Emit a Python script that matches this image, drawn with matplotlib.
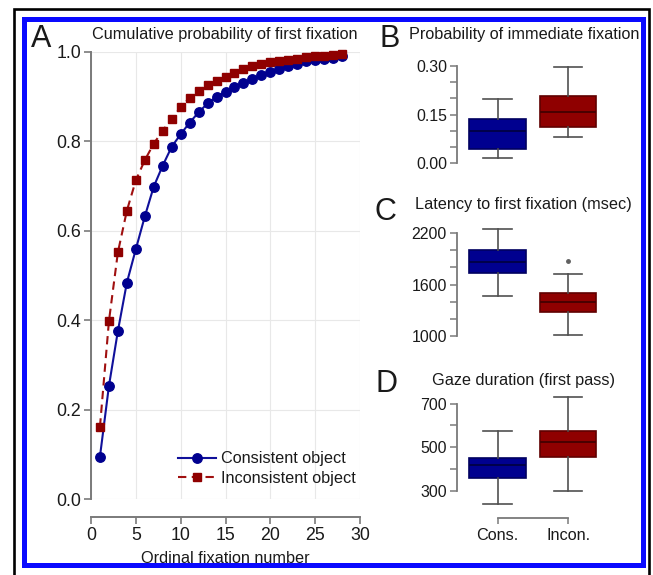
import matplotlib
matplotlib.use("Agg")
import matplotlib.pyplot as plt
from matplotlib.patches import Rectangle
from matplotlib.ticker import MultipleLocator
import numpy as np

plt.rcParams['font.family'] = ['Liberation Sans', 'DejaVu Sans']

# ---------------- data ----------------
fixation_number = list(range(1, 29))
cum_consistent = [0.095, 0.253, 0.376, 0.484, 0.559, 0.632, 0.699, 0.746, 0.788, 0.816,
                  0.842, 0.865, 0.885, 0.900, 0.911, 0.922, 0.930, 0.939, 0.949, 0.956,
                  0.963, 0.968, 0.974, 0.979, 0.981, 0.984, 0.986, 0.990]
cum_inconsistent = [0.162, 0.398, 0.552, 0.645, 0.713, 0.758, 0.795, 0.824, 0.851, 0.876,
                    0.898, 0.913, 0.926, 0.935, 0.945, 0.954, 0.963, 0.968, 0.973, 0.977,
                    0.980, 0.983, 0.985, 0.988, 0.990, 0.992, 0.994, 0.996]
series_labels = ["Consistent object", "Inconsistent object"]

cat_labels = ["Cons.", "Incon."]
# box stats: [whisker low, Q1, median, Q3, whisker high]
immediate_cons = [0.017, 0.045, 0.100, 0.138, 0.197]
immediate_incon = [0.082, 0.113, 0.157, 0.207, 0.297]
latency_cons = [1465, 1735, 1864, 2008, 2254]
latency_incon = [1008, 1278, 1395, 1504, 1720]
latency_incon_outliers = [1872]
gaze_cons = [239, 359, 419, 451, 575]
gaze_incon = [299, 457, 523, 573, 730]

# ---------------- figure ----------------
W, H = 653, 575
fig = plt.figure(figsize=(W / 100, H / 100), dpi=100)
fig.patch.set_facecolor('white')


def px_axes(left, top, right, bottom):
    return fig.add_axes([left / W, 1 - bottom / H, (right - left) / W, (bottom - top) / H])


def fx(x):
    return x / W


def fy(y):
    return 1 - y / H


BLUE = '#00008f'
BLUE_E = '#000060'
RED = '#8f0000'
RED_E = '#600000'
SPINE = '#7a7a7a'
TXT = '#1a1a1a'

# frames
fig.patches.append(Rectangle((fx(14), fy(590)), fx(649) - fx(14), fy(8.7) - fy(590),
                             transform=fig.transFigure, fill=False, edgecolor='black',
                             linewidth=1.9, zorder=0))
fig.patches.append(Rectangle((fx(24.2), fy(564.8)), fx(642.5) - fx(24.2), fy(19) - fy(564.8),
                             transform=fig.transFigure, fill=False, edgecolor='#0a0aff',
                             linewidth=3.6, zorder=0))

# ---------------- Panel A ----------------
axA = px_axes(91, 52, 360, 499)
axA.set_xlim(0, 30)
axA.set_ylim(0, 1.0)
axA.plot(fixation_number, cum_consistent, '-', color='#10109a', lw=1.5,
         marker='o', ms=6.8, mfc=BLUE, mec=BLUE, clip_on=False, zorder=3,
         label=series_labels[0])
axA.plot(fixation_number, cum_inconsistent, color='#a01010', lw=1.5, dashes=(4, 2.6),
         marker='s', ms=6.1, mfc=RED, mec=RED, clip_on=False, zorder=3,
         label=series_labels[1])
axA.set_xticks(np.arange(0, 31, 5))
axA.set_yticks(np.arange(0, 1.01, 0.2))
axA.set_yticklabels([f"{v:.1f}" for v in np.arange(0, 1.01, 0.2)])
axA.grid(True, color='#e8e8e8', lw=0.8)
axA.set_axisbelow(True)
for s in ['top', 'right']:
    axA.spines[s].set_visible(False)
axA.spines['bottom'].set_position(('outward', 13))
for s in ['left', 'bottom']:
    axA.spines[s].set_color(SPINE)
    axA.spines[s].set_linewidth(1.4)
axA.tick_params(axis='both', colors=SPINE, labelcolor=TXT, length=5, width=1.2,
                labelsize=12.8, pad=2)
axA.set_xlabel("Ordinal fixation number", fontsize=11.7, color=TXT, labelpad=5)
leg = axA.legend(loc='lower right', bbox_to_anchor=(0.985, 0.029), frameon=False,
                 fontsize=11.7, handlelength=2.35, handletextpad=0.3,
                 labelspacing=0.28, borderpad=0, borderaxespad=0)
for t in leg.get_texts():
    t.set_color(TXT)

fig.text(fx(31), fy(39), "A", fontsize=22, ha='left', va='center', color=TXT)
fig.text(fx(225), fy(35), "Cumulative probability of first fixation", fontsize=11.7,
         ha='center', va='center', color=TXT)


# ---------------- Box panels ----------------
def make_stats(vals, fliers=()):
    lo, q1, med, q3, hi = vals
    return dict(whislo=lo, q1=q1, med=med, q3=q3, whishi=hi, fliers=list(fliers))


def box_panel(ax, cons, incon, ylim, major, minor, bounds, fmt, incon_out=()):
    stats = [make_stats(cons), make_stats(incon, incon_out)]
    bp = ax.bxp(stats, positions=[1, 2], widths=0.8, patch_artist=True,
                showfliers=True, capwidths=0.4,
                whiskerprops=dict(color='#505050', lw=1.2),
                capprops=dict(color='#505050', lw=1.2),
                flierprops=dict(marker='o', ms=2.5, mfc='#606060', mec='#606060'))
    for patch, fc, ec in zip(bp['boxes'], [BLUE, RED], [BLUE_E, RED_E]):
        patch.set_facecolor(fc)
        patch.set_edgecolor(ec)
        patch.set_linewidth(1.2)
    for med, c in zip(bp['medians'], ['#00004a', '#4a0000']):
        med.set_color(c)
        med.set_linewidth(1.4)
    for a in bp['whiskers'] + bp['caps'] + bp['boxes'] + bp['medians'] + bp['fliers']:
        a.set_clip_on(False)
    ax.set_xlim(0.421, 2.58)
    ax.set_ylim(*ylim)
    ax.set_yticks(major)
    ax.set_yticklabels([fmt(v) for v in major])
    ax.yaxis.set_minor_locator(MultipleLocator(minor))
    ax.spines['left'].set_bounds(*bounds)
    for s in ['top', 'right']:
        ax.spines[s].set_visible(False)
    ax.spines['left'].set_color(SPINE)
    ax.spines['left'].set_linewidth(1.3)
    ax.tick_params(axis='y', which='both', colors=SPINE, labelcolor=TXT, length=5,
                   width=1.1, labelsize=11.4, pad=2)
    ax.patch.set_alpha(0)


axB = px_axes(456.7, 66, 609, 163.3)
box_panel(axB, immediate_cons, immediate_incon, (0, 0.30), [0, 0.15, 0.30], 0.05,
          (0, 0.30), lambda v: f"{v:.2f}")
axB.spines['bottom'].set_visible(False)
axB.set_xticks([])

axC = px_axes(456.7, 224.8, 609, 335.7)
box_panel(axC, latency_cons, latency_incon, (1000, 2300), [1000, 1600, 2200], 200,
          (1000, 2200), lambda v: f"{v:d}", incon_out=latency_incon_outliers)
axC.spines['bottom'].set_visible(False)
axC.set_xticks([])

axD = px_axes(456.7, 395, 609, 508.1)
box_panel(axD, gaze_cons, gaze_incon, (220, 740), [300, 500, 700], 100,
          (300, 700), lambda v: f"{v:d}")
axD.spines['bottom'].set_position(('outward', 7))
axD.spines['bottom'].set_bounds(1, 2)
axD.spines['bottom'].set_color(SPINE)
axD.spines['bottom'].set_linewidth(1.3)
axD.set_xticks([1, 2])
axD.set_xticklabels(cat_labels)
axD.tick_params(axis='x', colors=SPINE, labelcolor=TXT, length=4, width=1.1,
                labelsize=11.7, pad=3)

fig.text(fx(380), fy(39), "B", fontsize=22, ha='left', va='center', color=TXT)
fig.text(fx(524), fy(35), "Probability of immediate fixation", fontsize=11.7,
         ha='center', va='center', color=TXT)
fig.text(fx(374), fy(212), "C", fontsize=22, ha='left', va='center', color=TXT)
fig.text(fx(523.5), fy(205), "Latency to first fixation (msec)", fontsize=11.7,
         ha='center', va='center', color=TXT)
fig.text(fx(376), fy(384), "D", fontsize=22, ha='left', va='center', color=TXT)
fig.text(fx(524), fy(380), "Gaze duration (first pass)", fontsize=11.7,
         ha='center', va='center', color=TXT)

fig.savefig("out.png", dpi=100, facecolor='white')
